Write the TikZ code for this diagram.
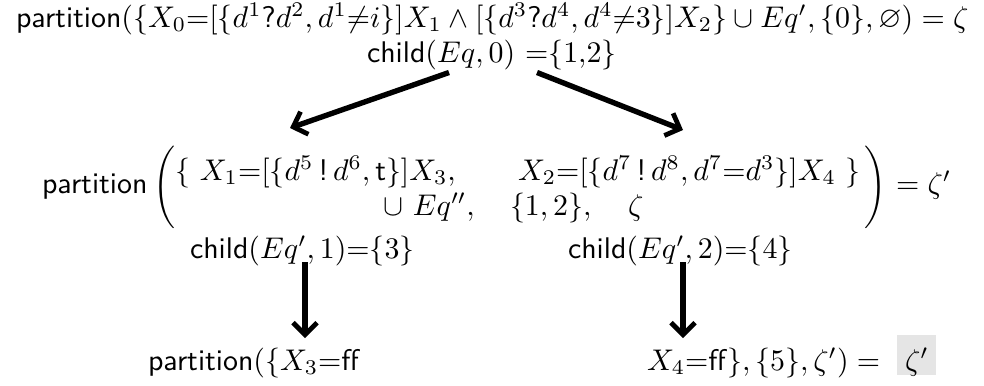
\documentclass[tikz,border=0pt]{standalone}
\usepackage{amsmath,amssymb,graphicx}
\usetikzlibrary{arrows.meta,calc}
\newcommand{\sfq}{\textsf{?}}
\newcommand{\sfx}{\,\textsf{!}\,}
\begin{document}
\begin{tikzpicture}[x=0.3346pt,y=-0.3346pt,
  txt/.style={inner sep=0pt,outer sep=0pt,anchor=base west},
  conn/.style={line width=1.8pt,-{Straight Barb[length=4pt,width=8pt,line width=1.6pt]}}]
\useasboundingbox (0,0) rectangle (984,385);
% line 1
\node[txt] (top) at (16,27.5) {\textsf{partition}$(\{X_0{=}[\{d^1\sfq d^2, d^1{\neq}i\}]X_1\wedge[\{d^3\sfq d^4, d^4{\neq}3\}]X_2\}\cup Eq', \{0\}, \varnothing) = \zeta$};
\node[txt] (child0) at (367,62.5) {\textsf{child}$(Eq,0)\ {=}\{1{,}2\}$};
% middle
\node[txt] (mpart) at (42,193) {\textsf{partition}};
\node[anchor=center,inner sep=0pt] (lparen) at (164,187) {\scalebox{1}[1.15]{$\bigg($}};
\node[txt] (xone) at (175,180) {$\{\ X_1{=}[\{d^5\sfx d^6, \textsf{t}\}]X_3,$};
\node[txt] (xtwo) at (518,180) {$X_2{=}[\{d^7\sfx d^8, d^7{=}d^3\}]X_4\ \}$};
\node[anchor=center,inner sep=0pt] (rparen) at (875,187) {\scalebox{1}[1.15]{$\bigg)$}};
\node[txt] (zp) at (896,193) {$=\zeta'$};
\node[txt] (eqpp) at (383,215) {$\cup\ Eq'',$};
\node[txt] (onetwo) at (510,215) {$\{1,2\},$};
\node[txt] (zet) at (628,215) {$\zeta$};
\node[txt] (child1) at (190,258) {\textsf{child}$(Eq',1){=}\{3\}$};
\node[txt] (child2) at (568,258) {\textsf{child}$(Eq',2){=}\{4\}$};
% bottom
\node[txt] (botl) at (148,370) {\textsf{partition}$(\{X_3{=}$\textsf{ff}};
\node[txt] (botr) at (647,370) {$X_4{=}$\textsf{ff}$\},\{5\},\zeta') = $};
\path[fill=black!10] (897,335) rectangle (936,375);
\node[txt] (zbox) at (905,370) {$\zeta'$};
% connectors
\coordinate (a1) at (290,128);
\coordinate (a2) at (683,130);
\coordinate (a3) at (305,338);
\coordinate (a4) at (683,338);
\draw[conn] ($(child0.base west)+(82,10)$) -- (a1);
\draw[conn] ($(child0.base west)+(170,10)$) -- (a2);
\draw[conn] ($(child1.base west)+(115,4)$) -- (a3);
\draw[conn] ($(child2.base west)+(115,4)$) -- (a4);
\end{tikzpicture}
\end{document}
